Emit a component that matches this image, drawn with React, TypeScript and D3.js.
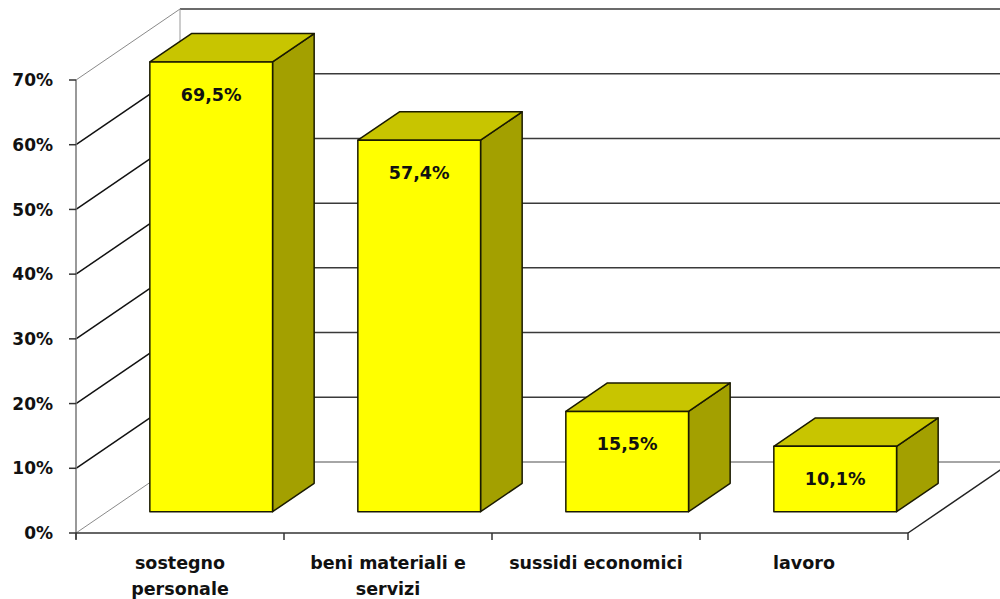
import React from "react";
import * as d3 from "d3";

const categories: string[][] = [
  ["sostegno", "personale"],
  ["beni materiali e", "servizi"],
  ["sussidi economici"],
  ["lavoro"],
];
const values: number[] = [0.695, 0.574, 0.155, 0.101];
const valueLabels: string[] = ["69,5%", "57,4%", "15,5%", "10,1%"];
const yTicks: number[] = [0, 0.1, 0.2, 0.3, 0.4, 0.5, 0.6, 0.7];

const W = 1000;
const H = 599;
const DX = 104;
const DY = -71;
const Z0 = 0.3;
const Z1 = 0.7;
const FONT = "'DejaVu Sans', Verdana, sans-serif";

export default function App() {
  const keys = categories.map((_, i) => String(i));
  const x = d3
    .scaleBand<string>()
    .domain(keys)
    .range([76, 908])
    .paddingInner(0.41)
    .paddingOuter(0.205);
  const y = d3.scaleLinear().domain([0, 0.7]).range([533, 80]);
  const step = x.step();
  const x0 = 76;
  const x1 = 908;
  const boundaries = d3.range(categories.length + 1).map((i) => x0 + i * step);
  const pct = d3.format(".0%");

  return (
    <svg
      width={W}
      height={H}
      style={{ position: "absolute", left: 0, top: 0, background: "#fff" }}
    >
      {/* back wall gridlines */}
      {yTicks.map((t) => (
        <line
          key={"bg" + t}
          x1={x0 + DX}
          x2={x1 + DX + 20}
          y1={y(t) + DY}
          y2={y(t) + DY}
          stroke={t === 0 ? "#888" : "#3a3a3a"}
          strokeWidth={1.5}
        />
      ))}
      {/* back wall left vertical */}
      <line x1={x0 + DX} x2={x0 + DX} y1={y(0) + DY} y2={y(0.7) + DY} stroke="#999" strokeWidth={1} />
      {/* left wall gridlines */}
      {yTicks.map((t) => (
        <line
          key={"lg" + t}
          x1={x0}
          y1={y(t)}
          x2={x0 + DX}
          y2={y(t) + DY}
          stroke={t === 0 || t === 0.7 ? "#8a8a8a" : "#111"}
          strokeWidth={t === 0 || t === 0.7 ? 1 : 1.5}
        />
      ))}
      {/* floor right edge */}
      <line x1={x1} y1={y(0)} x2={x1 + DX} y2={y(0) + DY} stroke="#222" strokeWidth={1.5} />
      {/* front y axis */}
      <line x1={x0} x2={x0} y1={y(0) + 6} y2={y(0.7)} stroke="#777" strokeWidth={1.5} />
      {yTicks.map((t) => (
        <line key={"yt" + t} x1={x0 - 7} x2={x0} y1={y(t)} y2={y(t)} stroke="#333" strokeWidth={1.5} />
      ))}
      {/* floor front edge */}
      <line x1={x0} x2={x1} y1={y(0)} y2={y(0)} stroke="#333" strokeWidth={1.5} />
      {boundaries.map((b, i) => (
        <line key={"xt" + i} x1={b} x2={b} y1={y(0)} y2={y(0) + 7} stroke="#333" strokeWidth={1.5} />
      ))}

      {/* bars */}
      {values.map((v, i) => {
        const bx = (x(String(i)) as number) + Z0 * DX;
        const bw = x.bandwidth();
        const ox = Z0 * DY;
        const yb = y(0) + ox;
        const yt = y(v) + ox;
        const ddx = (Z1 - Z0) * DX;
        const ddy = (Z1 - Z0) * DY;
        const top = `M${bx},${yt}L${bx + ddx},${yt + ddy}L${bx + bw + ddx},${yt + ddy}L${bx + bw},${yt}Z`;
        const side = `M${bx + bw},${yt}L${bx + bw + ddx},${yt + ddy}L${bx + bw + ddx},${yb + ddy}L${bx + bw},${yb}Z`;
        return (
          <g key={"bar" + i} stroke="#1a1a00" strokeWidth={1.5} strokeLinejoin="round">
            <path d={side} fill="#A3A000" />
            <path d={top} fill="#C8C500" />
            <rect x={bx} y={yt} width={bw} height={yb - yt} fill="#FFFF00" />
            <text
              x={bx + bw / 2}
              y={yt + 39}
              textAnchor="middle"
              fontFamily={FONT}
              fontWeight="bold"
              fontSize={17.5}
              fill="#111"
              stroke="none"
            >
              {valueLabels[i]}
            </text>
          </g>
        );
      })}

      {/* y tick labels */}
      {yTicks.map((t) => (
        <text
          key={"yl" + t}
          x={53}
          y={y(t)}
          dy="0.36em"
          textAnchor="end"
          fontFamily={FONT}
          fontWeight="bold"
          fontSize={17}
          fill="#111"
        >
          {pct(t)}
        </text>
      ))}

      {/* category labels */}
      {categories.map((lines, i) => (
        <text
          key={"cl" + i}
          textAnchor="middle"
          fontFamily={FONT}
          fontWeight="bold"
          fontSize={17.5}
          fill="#111"
        >
          {lines.map((ln, j) => (
            <tspan key={j} x={x0 + step * (i + 0.5)} y={569 + j * 26}>
              {ln}
            </tspan>
          ))}
        </text>
      ))}
    </svg>
  );
}
